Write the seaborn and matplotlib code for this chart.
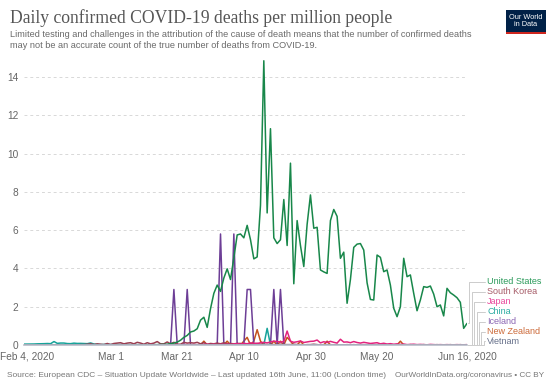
import pandas as pd
import matplotlib
matplotlib.use("Agg")
import matplotlib.pyplot as plt
from matplotlib.lines import Line2D
from matplotlib.patches import Rectangle
from matplotlib.transforms import IdentityTransform, ScaledTranslation
import seaborn as sns

# daily values, Feb 4 2020 .. Jun 16 2020 (134 days), 10 per row
dates = pd.date_range("2020-02-04", "2020-06-16", freq="D")

united_states = [
    0, 0, 0, 0, 0, 0, 0, 0, 0, 0,
    0, 0, 0, 0, 0, 0, 0, 0, 0, 0,
    0, 0, 0, 0, 0, 0.003, 0, 0.003, 0.015, 0.003,
    0.006, 0.009, 0.003, 0.009, 0.012, 0.006, 0.006, 0.015, 0.012, 0.015,
    0.018, 0.03, 0.03, 0.04, 0.07, 0.1, 0.15, 0.25, 0.4, 0.5,
    0.68, 0.73, 0.85, 1.3, 1.45, 0.92, 1.9, 2.7, 3.13, 2.8,
    3.5, 3.98, 3.42, 4.55, 5.75, 5.8, 5.6, 6.25, 5.5, 4.5,
    4.6, 7.3, 14.85, 6.9, 11.3, 5.6, 5.3, 5.5, 7.6, 5.2,
    9.5, 3.2, 6.5, 5.2, 4.1, 6.3, 7.84, 6.1, 6.15, 3.92,
    3.82, 3.74, 6.5, 7.08, 6.72, 4.53, 4.85, 2.18, 3.42, 5.1,
    5.27, 5.3, 4.96, 3.25, 2.38, 2.35, 4.7, 4.58, 3.83, 3.92,
    3.13, 1.92, 1.48, 2.0, 4.53, 3.57, 3.66, 2.7, 1.79, 2.35,
    3.05, 3.01, 3.08, 2.66, 2.0, 2.09, 1.52, 2.96, 2.73, 2.61,
    2.47, 2.23, 0.87, 1.13,
]

south_korea = [
    0, 0, 0, 0, 0, 0, 0, 0, 0, 0,
    0, 0, 0, 0, 0, 0, 0, 0.02, 0.02, 0.04,
    0.06, 0.02, 0.06, 0.04, 0.02, 0.08, 0.02, 0.08, 0.1, 0.12,
    0.06, 0.1, 0.12, 0.06, 0.14, 0.1, 0.04, 0.12, 0.06, 0.1,
    0.18, 0.06, 0.06, 0.16, 0.06, 0.14, 0.04, 0.04, 0.14, 0.1,
    0.12, 0.1, 0.14, 0.06, 0.12, 0.04, 0.08, 0.06, 0.1, 0.06,
    0.12, 0.06, 0.08, 0.06, 0.08, 0.08, 0.04, 0.06, 0.06, 0.06,
    0.08, 0.04, 0.04, 0.02, 0.04, 0.02, 0.02, 0.04, 0.02, 0.02,
    0.02, 0.04, 0.02, 0.02, 0, 0.02, 0.02, 0.04, 0.02, 0,
    0.02, 0, 0.02, 0, 0.02, 0, 0, 0.02, 0, 0.02,
    0, 0, 0.02, 0, 0, 0, 0.02, 0, 0, 0.02,
    0, 0, 0.02, 0, 0, 0, 0.02, 0, 0, 0,
    0.02, 0, 0, 0, 0.02, 0, 0, 0, 0.02, 0,
    0, 0.02, 0, 0,
]

japan = [
    0, 0, 0, 0, 0, 0, 0, 0, 0, 0.008,
    0, 0, 0, 0, 0, 0, 0.008, 0, 0, 0.008,
    0.016, 0, 0.008, 0.008, 0, 0.008, 0.016, 0.008, 0, 0.016,
    0.008, 0.008, 0, 0.016, 0.008, 0.016, 0.008, 0, 0.024, 0.016,
    0.008, 0.016, 0.008, 0.016, 0.008, 0.008, 0.024, 0.008, 0.016, 0.024,
    0.008, 0.024, 0.016, 0.008, 0.024, 0.04, 0.016, 0.04, 0.016, 0.032,
    0.024, 0.04, 0.024, 0.056, 0.071, 0.048, 0.087, 0.063, 0.11, 0.095,
    0.079, 0.12, 0.14, 0.11, 0.16, 0.2, 0.18, 0.15, 0.18, 0.73,
    0.2, 0.14, 0.17, 0.21, 0.13, 0.16, 0.19, 0.2, 0.26, 0.11,
    0.17, 0.13, 0.19, 0.14, 0.1, 0.3, 0.15, 0.16, 0.12, 0.18,
    0.13, 0.1, 0.14, 0.11, 0.08, 0.1, 0.12, 0.06, 0.09, 0.05,
    0.07, 0.04, 0.06, 0.03, 0.05, 0.02, 0.03, 0.04, 0.02, 0.03,
    0.02, 0.01, 0.03, 0.02, 0.01, 0.02, 0.01, 0.02, 0.01, 0.01,
    0.02, 0.01, 0.01, 0.02,
]

china = [
    0.046, 0.047, 0.052, 0.052, 0.061, 0.064, 0.069, 0.077, 0.069, 0.18,
    0.086, 0.102, 0.101, 0.075, 0.07, 0.097, 0.081, 0.084, 0.078, 0.069,
    0.107, 0.051, 0.037, 0.021, 0.031, 0.034, 0.025, 0.03, 0.022, 0.027,
    0.022, 0.021, 0.02, 0.019, 0.016, 0.012, 0.016, 0.008, 0.005, 0.009,
    0.01, 0.006, 0.008, 0.005, 0.006, 0.004, 0.005, 0.004, 0.005, 0.003,
    0.004, 0.003, 0.004, 0.003, 0.004, 0.005, 0.004, 0.002, 0.003, 0.002,
    0.003, 0.002, 0.001, 0.002, 0.002, 0.001, 0.001, 0.002, 0.001, 0.001,
    0.001, 0.001, 0, 0.87, 0, 0, 0, 0, 0, 0,
    0, 0, 0, 0, 0, 0, 0, 0, 0, 0,
    0, 0, 0, 0, 0, 0, 0, 0, 0, 0,
    0, 0, 0, 0, 0, 0, 0, 0, 0, 0,
    0, 0, 0, 0, 0, 0, 0, 0, 0, 0,
    0, 0, 0, 0, 0, 0, 0, 0, 0, 0,
    0, 0, 0, 0,
]

iceland = [
    0, 0, 0, 0, 0, 0, 0, 0, 0, 0,
    0, 0, 0, 0, 0, 0, 0, 0, 0, 0,
    0, 0, 0, 0, 0, 0, 0, 0, 0, 0,
    0, 0, 0, 0, 0, 0, 0, 0, 0, 0,
    0, 0, 0, 0, 0, 2.9, 0, 0, 0, 2.9,
    0, 0, 0, 0, 0, 0, 0, 0, 0, 5.8,
    0, 0, 0, 5.8, 0, 0, 0, 2.9, 2.9, 0,
    0, 0, 0, 0, 0, 2.9, 0, 2.9, 0, 0,
    0, 0, 0, 0, 0, 0, 0, 0, 0, 0,
    0, 0, 0, 0, 0, 0, 0, 0, 0, 0,
    0, 0, 0, 0, 0, 0, 0, 0, 0, 0,
    0, 0, 0, 0, 0, 0, 0, 0, 0, 0,
    0, 0, 0, 0, 0, 0, 0, 0, 0, 0,
    0, 0, 0, 0,
]

new_zealand = [
    0, 0, 0, 0, 0, 0, 0, 0, 0, 0,
    0, 0, 0, 0, 0, 0, 0, 0, 0, 0,
    0, 0, 0, 0, 0, 0, 0, 0, 0, 0,
    0, 0, 0, 0, 0, 0, 0, 0, 0, 0,
    0, 0, 0, 0, 0, 0, 0, 0, 0, 0,
    0, 0, 0, 0, 0.2, 0, 0, 0, 0, 0,
    0, 0.2, 0, 0, 0, 0, 0.2, 0.4, 0, 0.2,
    0.8, 0.2, 0, 0, 0, 0.2, 0, 0.2, 0, 0.4,
    0.2, 0, 0, 0.2, 0, 0, 0, 0, 0, 0,
    0, 0.2, 0, 0, 0, 0, 0, 0, 0, 0,
    0, 0, 0, 0, 0, 0, 0, 0, 0, 0,
    0, 0, 0, 0.2, 0, 0, 0, 0, 0, 0,
    0, 0, 0, 0, 0, 0, 0, 0, 0, 0,
    0, 0, 0, 0,
]

vietnam = [
    0, 0, 0, 0, 0, 0, 0, 0, 0, 0,
    0, 0, 0, 0, 0, 0, 0, 0, 0, 0,
    0, 0, 0, 0, 0, 0, 0, 0, 0, 0,
    0, 0, 0, 0, 0, 0, 0, 0, 0, 0,
    0, 0, 0, 0, 0, 0, 0, 0, 0, 0,
    0, 0, 0, 0, 0, 0, 0, 0, 0, 0,
    0, 0, 0, 0, 0, 0, 0, 0, 0, 0,
    0, 0, 0, 0, 0, 0, 0, 0, 0, 0,
    0, 0, 0, 0, 0, 0, 0, 0, 0, 0,
    0, 0, 0, 0, 0, 0, 0, 0, 0, 0,
    0, 0, 0, 0, 0, 0, 0, 0, 0, 0,
    0, 0, 0, 0, 0, 0, 0, 0, 0, 0,
    0, 0, 0, 0, 0, 0, 0, 0, 0, 0,
    0, 0, 0, 0,
]

countries = ["United States", "South Korea", "Japan", "China", "Iceland", "New Zealand", "Vietnam"]
series = [united_states, south_korea, japan, china, iceland, new_zealand, vietnam]
colors = {
    "United States": "#18874a",
    "South Korea": "#9a3f52",
    "Japan": "#e2237e",
    "China": "#17a39a",
    "Iceland": "#6d3e96",
    "New Zealand": "#c4521d",
    "Vietnam": "#58647e",
}
label_colors = {
    "United States": "#2a9a5a",
    "South Korea": "#a55a66",
    "Japan": "#e8459a",
    "China": "#2aaba2",
    "Iceland": "#8a65b3",
    "New Zealand": "#cc6a3a",
    "Vietnam": "#66708a",
}

tick_dates = pd.to_datetime(["2020-02-04", "2020-03-01", "2020-03-21", "2020-04-10",
                             "2020-04-30", "2020-05-20", "2020-06-16"])
tick_labels = ["Feb 4, 2020", "Mar 1", "Mar 21", "Apr 10", "Apr 30", "May 20", "Jun 16, 2020"]

df = pd.concat([pd.DataFrame({"date": dates, "country": c, "value": v})
                for c, v in zip(countries, series)], ignore_index=True)

sns.set_style("white")
plt.rcParams["font.family"] = ["Liberation Sans", "DejaVu Sans"]

W, H = 550, 388
fig = plt.figure(figsize=(W / 100, H / 100), dpi=100)
ax_top, ax_bottom, ax_left, ax_right = 59.8, 345, 24, 467
ax = fig.add_axes([ax_left / W, 1 - ax_bottom / H, (ax_right - ax_left) / W, (ax_bottom - ax_top) / H])

draw_order = ["New Zealand", "Iceland", "China", "South Korea", "Japan", "United States", "Vietnam"]
sns.lineplot(data=df, x="date", y="value", hue="country", hue_order=draw_order,
             palette=colors, linewidth=1.1, legend=False, ax=ax)

ax.set_xlim(dates[0], dates[-1])
ax.set_ylim(0, 14.9)
ax.set_yticks(range(0, 15, 2))
ax.set_xticks(tick_dates)
ax.set_xticklabels(tick_labels)
ax.set_xlabel("")
ax.set_ylabel("")
ax.yaxis.grid(True, linestyle=(0, (3, 3)), color="#d8d8d8", linewidth=0.7)
ax.xaxis.grid(False)
for s in ["top", "right", "left"]:
    ax.spines[s].set_visible(False)
ax.spines["bottom"].set_color("#b8bcc8")
ax.spines["bottom"].set_linewidth(1.2)
ax.tick_params(axis="x", length=3, color="#cccccc", labelcolor="#666666", labelsize=7.3, pad=2)
ax.tick_params(axis="y", length=0, labelcolor="#666666", labelsize=7.3, pad=4)
first = ax.get_xticklabels()[0]
first.set_horizontalalignment("left")
first.set_transform(first.get_transform() + ScaledTranslation(-24 / 100, 0, fig.dpi_scale_trans))

# line labels with connectors on the right
label_y = [281.7, 291.7, 301.7, 311.7, 321.7, 331.7, 341.2]
conn_x = [469.3, 471.7, 474.0, 476.5, 479.0, 481.3, 483.5]
for i, c in enumerate(countries):
    v = series[i][-1]
    ex, ey = ax.transData.transform((ax.get_xlim()[1], v))
    xs = [ex + 1, conn_x[i], conn_x[i], 485]
    ys = [ey, ey, H - label_y[i], H - label_y[i]]
    fig.add_artist(Line2D(xs, ys, transform=IdentityTransform(), color="#cccccc", lw=0.7))
    fig.text(487 / W, 1 - label_y[i] / H, c, color=label_colors[c], fontsize=6.5, va="center", ha="left")

# title block
fig.text(10 / W, 1 - 23 / H, "Daily confirmed COVID-19 deaths per million people",
         family=["Liberation Serif", "DejaVu Serif"], fontsize=12.7, color="#555555", va="baseline")
fig.text(10 / W, 1 - 30 / H,
         "Limited testing and challenges in the attribution of the cause of death means that the number of confirmed deaths\n"
         "may not be an accurate count of the true number of deaths from COVID-19.",
         fontsize=6.57, color="#6a6a6a", va="top", linespacing=1.3)

# logo
fig.add_artist(Rectangle((506 / W, 1 - 34 / H), 40 / W, 24 / H, transform=fig.transFigure,
                         facecolor="#002147", edgecolor="none"))
fig.add_artist(Rectangle((506 / W, 1 - 34 / H), 40 / W, 2 / H, transform=fig.transFigure,
                         facecolor="#ce261e", edgecolor="none"))
fig.text(526 / W, 1 - 21 / H, "Our World\nin Data", color="white", fontsize=5.3,
         ha="center", va="center", linespacing=1.0)

# footer
fig.text(7 / W, 1 - 375.5 / H,
         "Source: European CDC \u2013 Situation Update Worldwide \u2013 Last updated 16th June, 11:00 (London time)",
         fontsize=6.0, color="#777777", va="center", ha="left")
fig.text(544 / W, 1 - 375.5 / H, "OurWorldInData.org/coronavirus \u2022 CC BY",
         fontsize=5.9, color="#777777", va="center", ha="right")

fig.savefig("out.png", dpi=100)
plt.close("all")
